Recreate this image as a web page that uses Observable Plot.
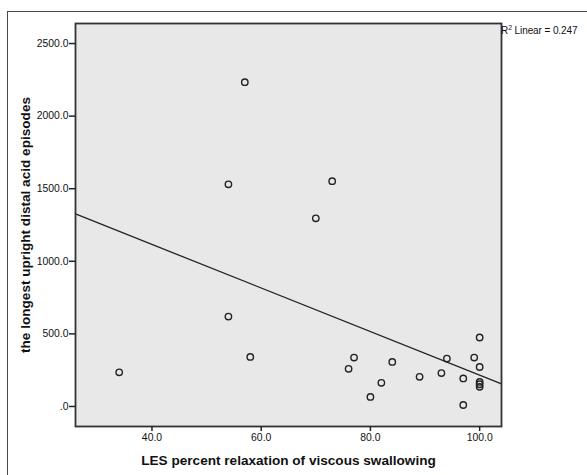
<!DOCTYPE html>
<html>
<head>
<meta charset="utf-8">
<script src="https://cdn.jsdelivr.net/npm/d3@7"></script>
<script src="https://cdn.jsdelivr.net/npm/@observablehq/plot@0.6"></script>
<style>
  html, body { margin: 0; padding: 0; background: #fff; }
  #wrap { position: relative; width: 587px; height: 475px; overflow: hidden; font-family: "Liberation Sans", Arial, sans-serif; }
  #border { position: absolute; left: 7px; top: 11px; right: -2px; bottom: -2px; border-left: 1px solid #4a4a4a; border-top: 1px solid #4a4a4a; }
  #chart { position: absolute; left: 0; top: 0; }
  #r2 { position: absolute; left: 501px; top: 25px; font-size: 10px; line-height: 12px; color: #111; white-space: nowrap; letter-spacing: -0.1px; }
  #r2 sup { font-size: 7px; line-height: 0; vertical-align: 4px; }
</style>
</head>
<body>
<div id="wrap">
  <div id="border"></div>
  <div id="chart"></div>
  <div id="r2">R<sup>2</sup> Linear = 0.247</div>
</div>
<script>
// Data
const lesRelaxation = [34, 54, 54, 57, 58, 70, 73, 76, 77, 80, 82, 84, 89, 93, 94, 97, 97, 99, 100, 100, 100, 100, 100];
const longestEpisode = [235, 1530, 619, 2234, 341, 1296, 1552, 259, 337, 66, 163, 307, 204, 230, 330, 193, 10, 337, 475, 272, 169, 153, 135];

const xTicks = [40, 60, 80, 100];
const xTickLabels = ["40.0", "60.0", "80.0", "100.0"];
const yTicks = [0, 500, 1000, 1500, 2000, 2500];
const yTickLabels = [".0", "500.0", "1000.0", "1500.0", "2000.0", "2500.0"];

const xTitle = "LES percent relaxation of viscous swallowing";
const yTitle = "the longest upright distal acid episodes";

const xDomain = [26, 104];
const yDomain = [-138, 2638];

const points = lesRelaxation.map((x, i) => ({x, y: longestEpisode[i]}));

// Least-squares fit (drawn across the full x range, like SPSS)
const mx = d3.mean(lesRelaxation), my = d3.mean(longestEpisode);
let sxy = 0, sxx = 0;
points.forEach(p => { sxy += (p.x - mx) * (p.y - my); sxx += (p.x - mx) ** 2; });
const slope = sxy / sxx, intercept = my - slope * mx;
const fitLine = xDomain.map(x => ({x, y: intercept + slope * x}));

const chart = Plot.plot({
  width: 587,
  height: 475,
  marginLeft: 75,
  marginRight: 86,
  marginTop: 23,
  marginBottom: 49,
  style: {fontFamily: "Liberation Sans, Arial, sans-serif", fontSize: "10.4px", color: "#111", background: "transparent", overflow: "visible"},
  x: {domain: xDomain},
  y: {domain: yDomain},
  marks: [
    Plot.frame({fill: "#e8e8e8"}),
    Plot.line(fitLine, {x: "x", y: "y", stroke: "#222", strokeWidth: 1.3}),
    Plot.dot(points, {x: "x", y: "y", r: 3.2, stroke: "#222", strokeWidth: 1.4, fill: "none"}),
    Plot.frame({stroke: "#333", strokeWidth: 1.8}),
    Plot.axisX({ticks: xTicks, tickFormat: d => xTickLabels[xTicks.indexOf(d)], tickSize: 5, tickPadding: 2, strokeWidth: 1.5, stroke: "#222", label: null}),
    Plot.axisY({ticks: yTicks, tickFormat: d => yTickLabels[yTicks.indexOf(d)], tickSize: 6, tickPadding: 1, strokeWidth: 1.5, stroke: "#222", label: null}),
    Plot.text([xTitle], {frameAnchor: "bottom", dy: 34, text: d => d, fontSize: 13.6, fontWeight: "bold", fill: "#111", lineAnchor: "middle", textAnchor: "middle"}),
    Plot.text([yTitle], {frameAnchor: "left", dx: -50, rotate: -90, text: d => d, fontSize: 13.6, fontWeight: "bold", fill: "#111", lineAnchor: "middle", textAnchor: "middle"})
  ]
});
document.getElementById("chart").appendChild(chart);
</script>
</body>
</html>
